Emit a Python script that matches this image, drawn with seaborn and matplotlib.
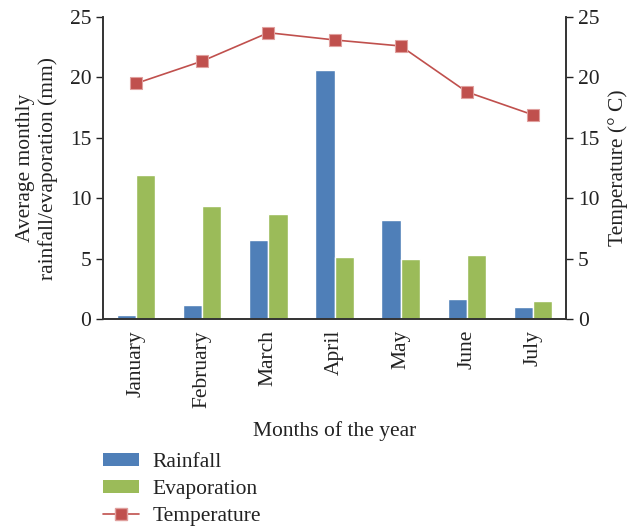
import matplotlib
matplotlib.use("Agg")
import matplotlib.pyplot as plt
import seaborn as sns
import pandas as pd
from matplotlib.patches import Patch
from matplotlib.lines import Line2D

sns.set_theme(style="white")
plt.rcParams['font.family'] = ['Liberation Serif', 'DejaVu Serif']

months = ["January", "February", "March", "April", "May", "June", "July"]
rainfall = [0.3, 1.2, 6.55, 20.6, 8.2, 1.65, 1.0]
evaporation = [11.9, 9.35, 8.7, 5.15, 5.0, 5.3, 1.5]
temperature = [19.5, 21.35, 23.7, 23.1, 22.6, 18.8, 16.9]

blue = "#4f7fb8"
green = "#9bbb59"
red = "#c0504d"
fs = 15.5

df = pd.DataFrame({
    "Month": months * 2,
    "Value": rainfall + evaporation,
    "Series": ["Rainfall"] * 7 + ["Evaporation"] * 7,
})
df_t = pd.DataFrame({"Month": months, "Temperature": temperature})

fig = plt.figure(figsize=(6.31, 5.31), dpi=100)
ax = fig.add_axes([103 / 631, 1 - 319 / 531, (566 - 103) / 631, (319 - 17) / 531])

sns.barplot(data=df, x="Month", y="Value", hue="Series", order=months,
            palette=[blue, green], width=0.58, gap=0, saturation=1,
            legend=False, ax=ax)

ax2 = ax.twinx()
ax2.plot(df_t["Month"], df_t["Temperature"], color=red, lw=1.2,
         marker="s", markersize=8, markerfacecolor=red,
         markeredgecolor="#e0a09e", markeredgewidth=0.8)

for a in (ax, ax2):
    a.set_ylim(0, 25)
    a.set_yticks(range(0, 26, 5))
    a.tick_params(axis="y", labelsize=fs, colors="#222222", length=5,
                  direction="out", width=1)
    for s in a.spines.values():
        s.set_color("#333333")
        s.set_linewidth(1.2)
    a.spines["top"].set_visible(False)

ax.set_xlim(-0.5, 6.5)
ax.set_xticks(range(7))
ax.set_xticklabels(months, rotation=90, fontsize=fs, color="#222222")
ax.tick_params(axis="x", length=0, pad=8)
ax.set_xticks([i - 0.5 for i in range(8)], minor=True)
ax.tick_params(axis="x", which="minor", length=7, width=1, direction="out", color="#333333")
ax.tick_params(axis="y", left=True)
ax2.tick_params(axis="y", right=True)

ax.set_xlabel("Months of the year", fontsize=fs, color="#222222", labelpad=10)
ax.set_ylabel("Average monthly\nrainfall/evaporation (mm)", fontsize=fs,
              color="#222222", labelpad=8, linespacing=1.25)
ax2.set_ylabel("Temperature (° C)", fontsize=fs, color="#222222", labelpad=6)

handles = [
    Patch(facecolor=blue, edgecolor="none"),
    Patch(facecolor=green, edgecolor="none"),
    Line2D([0], [0], color=red, lw=1.2, marker="s", markersize=8,
           markerfacecolor=red, markeredgecolor="#e0a09e"),
]
fig.legend(handles, ["Rainfall", "Evaporation", "Temperature"],
           loc="upper left", bbox_to_anchor=(103 / 631, 1 - 453 / 531),
           frameon=False, fontsize=fs, handlelength=1.65, handleheight=0.55,
           labelspacing=0.36, handletextpad=0.65, borderpad=0,
           borderaxespad=0, labelcolor="#222222")

fig.savefig("out.png", dpi=100)
